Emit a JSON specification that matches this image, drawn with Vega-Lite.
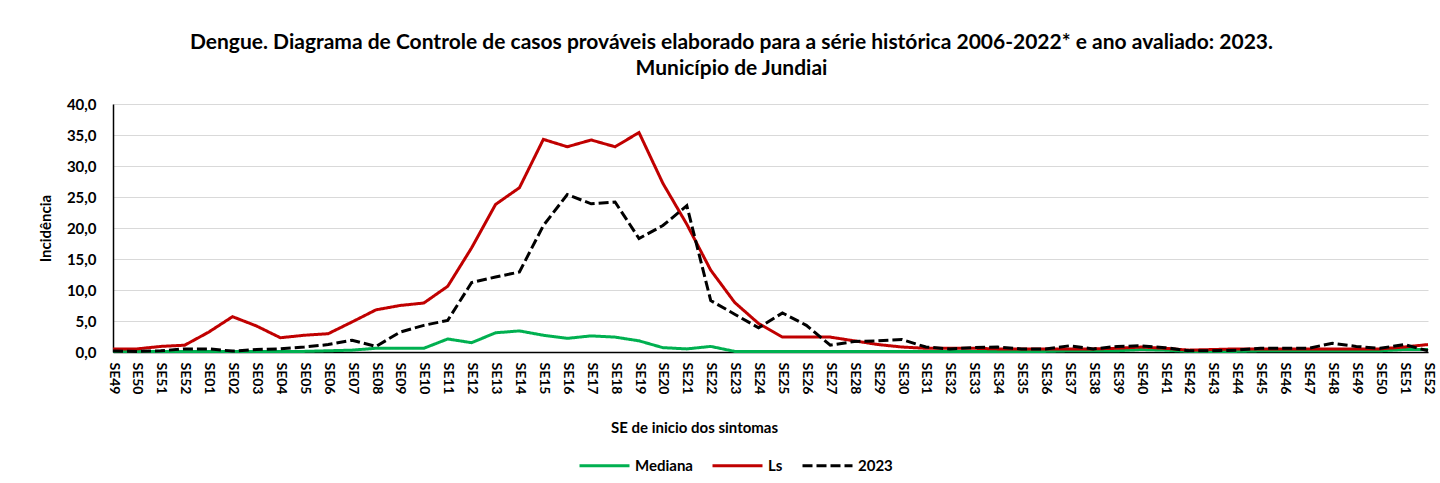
{
  "$schema": "https://vega.github.io/schema/vega-lite/v6.json",
  "autosize": {"type": "none"},
  "width": 1315,
  "height": 248,
  "padding": {"left": 113, "top": 104, "right": 12, "bottom": 131},
  "background": "white",
  "title": {
    "text": ["Dengue. Diagrama de Controle de casos prováveis  elaborado para a série histórica 2006-2022* e ano avaliado: 2023.", "Município de Jundiai"],
    "font": "Lato",
    "fontSize": 21,
    "fontWeight": "bold",
    "color": "#000000",
    "lineHeight": 26,
    "anchor": "middle",
    "dx": -39,
    "offset": 18
  },
  "data": {
    "values": [
      {"se": "2022-SE49", "Mediana": 0.1, "Ls": 0.5, "2023": 0.15},
      {"se": "2022-SE50", "Mediana": 0.1, "Ls": 0.5, "2023": 0.1},
      {"se": "2022-SE51", "Mediana": 0.1, "Ls": 0.9, "2023": 0.2},
      {"se": "2022-SE52", "Mediana": 0.1, "Ls": 1.1, "2023": 0.5},
      {"se": "2023-SE01", "Mediana": 0.1, "Ls": 3.2, "2023": 0.5},
      {"se": "2023-SE02", "Mediana": 0.1, "Ls": 5.7, "2023": 0.15},
      {"se": "2023-SE03", "Mediana": 0.1, "Ls": 4.2, "2023": 0.4},
      {"se": "2023-SE04", "Mediana": 0.1, "Ls": 2.3, "2023": 0.5},
      {"se": "2023-SE05", "Mediana": 0.1, "Ls": 2.7, "2023": 0.8},
      {"se": "2023-SE06", "Mediana": 0.2, "Ls": 2.95, "2023": 1.2},
      {"se": "2023-SE07", "Mediana": 0.3, "Ls": 4.85, "2023": 1.9},
      {"se": "2023-SE08", "Mediana": 0.6, "Ls": 6.8, "2023": 0.9},
      {"se": "2023-SE09", "Mediana": 0.6, "Ls": 7.5, "2023": 3.2},
      {"se": "2023-SE10", "Mediana": 0.6, "Ls": 7.9, "2023": 4.3},
      {"se": "2023-SE11", "Mediana": 2.1, "Ls": 10.6, "2023": 5.1},
      {"se": "2023-SE12", "Mediana": 1.5, "Ls": 16.8, "2023": 11.2},
      {"se": "2023-SE13", "Mediana": 3.1, "Ls": 23.8, "2023": 12.1},
      {"se": "2023-SE14", "Mediana": 3.4, "Ls": 26.5, "2023": 12.9},
      {"se": "2023-SE15", "Mediana": 2.7, "Ls": 34.3, "2023": 20.4},
      {"se": "2023-SE16", "Mediana": 2.2, "Ls": 33.1, "2023": 25.4},
      {"se": "2023-SE17", "Mediana": 2.6, "Ls": 34.2, "2023": 23.9},
      {"se": "2023-SE18", "Mediana": 2.4, "Ls": 33.1, "2023": 24.2},
      {"se": "2023-SE19", "Mediana": 1.8, "Ls": 35.4, "2023": 18.3},
      {"se": "2023-SE20", "Mediana": 0.7, "Ls": 27.2, "2023": 20.4},
      {"se": "2023-SE21", "Mediana": 0.5, "Ls": 20.6, "2023": 23.6},
      {"se": "2023-SE22", "Mediana": 0.9, "Ls": 13.2, "2023": 8.3},
      {"se": "2023-SE23", "Mediana": 0.1, "Ls": 8.0, "2023": 6.1},
      {"se": "2023-SE24", "Mediana": 0.1, "Ls": 4.6, "2023": 3.9},
      {"se": "2023-SE25", "Mediana": 0.1, "Ls": 2.4, "2023": 6.3},
      {"se": "2023-SE26", "Mediana": 0.1, "Ls": 2.4, "2023": 4.3},
      {"se": "2023-SE27", "Mediana": 0.1, "Ls": 2.4, "2023": 1.1},
      {"se": "2023-SE28", "Mediana": 0.1, "Ls": 1.8, "2023": 1.7},
      {"se": "2023-SE29", "Mediana": 0.1, "Ls": 1.2, "2023": 1.8},
      {"se": "2023-SE30", "Mediana": 0.1, "Ls": 0.8, "2023": 2.0},
      {"se": "2023-SE31", "Mediana": 0.1, "Ls": 0.6, "2023": 0.8},
      {"se": "2023-SE32", "Mediana": 0.1, "Ls": 0.6, "2023": 0.5},
      {"se": "2023-SE33", "Mediana": 0.1, "Ls": 0.6, "2023": 0.7},
      {"se": "2023-SE34", "Mediana": 0.1, "Ls": 0.5, "2023": 0.8},
      {"se": "2023-SE35", "Mediana": 0.1, "Ls": 0.5, "2023": 0.5},
      {"se": "2023-SE36", "Mediana": 0.1, "Ls": 0.5, "2023": 0.5},
      {"se": "2023-SE37", "Mediana": 0.2, "Ls": 0.5, "2023": 1.0},
      {"se": "2023-SE38", "Mediana": 0.2, "Ls": 0.5, "2023": 0.5},
      {"se": "2023-SE39", "Mediana": 0.2, "Ls": 0.6, "2023": 0.9},
      {"se": "2023-SE40", "Mediana": 0.4, "Ls": 0.8, "2023": 1.0},
      {"se": "2023-SE41", "Mediana": 0.3, "Ls": 0.6, "2023": 0.7},
      {"se": "2023-SE42", "Mediana": 0.1, "Ls": 0.3, "2023": 0.2},
      {"se": "2023-SE43", "Mediana": 0.1, "Ls": 0.4, "2023": 0.2},
      {"se": "2023-SE44", "Mediana": 0.1, "Ls": 0.5, "2023": 0.3},
      {"se": "2023-SE45", "Mediana": 0.2, "Ls": 0.5, "2023": 0.6},
      {"se": "2023-SE46", "Mediana": 0.2, "Ls": 0.5, "2023": 0.6},
      {"se": "2023-SE47", "Mediana": 0.2, "Ls": 0.5, "2023": 0.6},
      {"se": "2023-SE48", "Mediana": 0.2, "Ls": 0.5, "2023": 1.4},
      {"se": "2023-SE49", "Mediana": 0.2, "Ls": 0.5, "2023": 0.9},
      {"se": "2023-SE50", "Mediana": 0.2, "Ls": 0.5, "2023": 0.6},
      {"se": "2023-SE51", "Mediana": 0.4, "Ls": 0.8, "2023": 1.2},
      {"se": "2023-SE52", "Mediana": 0.4, "Ls": 1.2, "2023": 0.2}
    ]
  },
  "transform": [{"fold": ["Mediana", "Ls", "2023"], "as": ["serie", "valor"]}],
  "mark": {"type": "line", "strokeWidth": 3, "interpolate": "linear"},
  "encoding": {
    "x": {
      "field": "se",
      "type": "ordinal",
      "scale": {"padding": 0},
      "axis": {
        "title": "SE de inicio dos sintomas",
        "titleFont": "Lato",
        "titleFontSize": 15,
        "titleFontWeight": "bold",
        "titleColor": "#000000",
        "titleX": 581,
        "titleY": 68,
        "labelExpr": "slice(datum.label, -4)",
        "labelAngle": 90,
        "labelFont": "Lato",
        "labelFontSize": 14,
        "labelFontWeight": "bold",
        "labelColor": "#000000",
        "labelPadding": 10,
        "ticks": false,
        "domainColor": "#000000",
        "domainWidth": 1.5,
        "grid": false
      }
    },
    "y": {
      "field": "valor",
      "type": "quantitative",
      "scale": {"domain": [0, 40], "nice": false},
      "axis": {
        "title": "Incidência",
        "titleFont": "Lato",
        "titleFontSize": 15,
        "titleFontWeight": "bold",
        "titleColor": "#000000",
        "titleX": -68,
        "titleY": 124,
        "titleBaseline": "middle",
        "values": [0, 5, 10, 15, 20, 25, 30, 35, 40],
        "labelExpr": "replace(format(datum.value, '.1f'), '.', ',')",
        "labelFont": "Lato",
        "labelFontSize": 15,
        "labelFontWeight": "bold",
        "labelColor": "#000000",
        "labelPadding": 17,
        "ticks": false,
        "domainColor": "#000000",
        "domainWidth": 1.5,
        "grid": true,
        "gridColor": "#d9d9d9",
        "gridWidth": 1.2
      }
    },
    "color": {
      "field": "serie",
      "type": "nominal",
      "scale": {"domain": ["Mediana", "Ls", "2023"], "range": ["#00b050", "#c00000", "#000000"]},
      "legend": {
        "title": null,
        "orient": "none",
        "direction": "horizontal",
        "legendX": 465,
        "legendY": 335,
        "symbolType": "stroke",
        "symbolSize": 2500,
        "symbolStrokeWidth": 3,
        "labelFont": "Lato",
        "labelFontSize": 15,
        "labelFontWeight": "bold",
        "labelColor": "#000000",
        "labelOffset": 4,
        "columnPadding": 13
      }
    },
    "strokeDash": {
      "field": "serie",
      "type": "nominal",
      "scale": {"domain": ["Mediana", "Ls", "2023"], "range": [[1, 0], [1, 0], [10, 4]]},
      "legend": {
        "title": null,
        "orient": "none",
        "direction": "horizontal",
        "legendX": 465,
        "legendY": 335,
        "symbolType": "stroke",
        "symbolSize": 2500,
        "symbolStrokeWidth": 3,
        "labelFont": "Lato",
        "labelFontSize": 15,
        "labelFontWeight": "bold",
        "labelColor": "#000000",
        "labelOffset": 4,
        "columnPadding": 13
      }
    }
  },
  "config": {"view": {"stroke": null}}
}
